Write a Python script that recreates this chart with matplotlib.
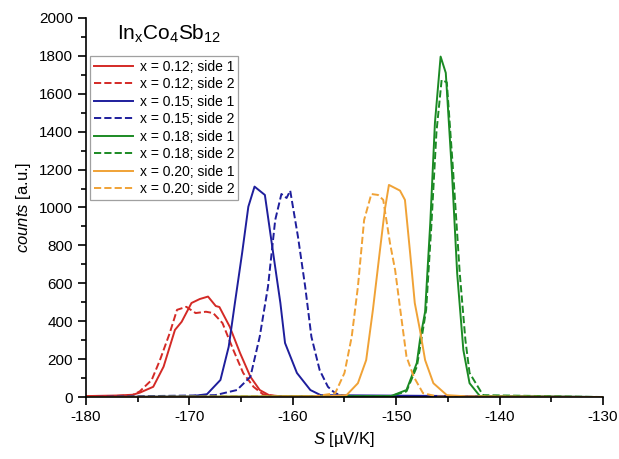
import matplotlib.pyplot as plt

plt.rcParams['font.family'] = ['Liberation Sans', 'DejaVu Sans']
plt.rcParams['mathtext.fontset'] = 'custom'
plt.rcParams['mathtext.rm'] = 'Liberation Sans'
plt.rcParams['mathtext.it'] = 'Liberation Sans:italic'
plt.rcParams['axes.unicode_minus'] = False

# x = 0.12
red1_x = [-180, -177, -175.5, -174.8, -173.5, -172.5, -171.4, -170.75, -169.8, -169.0, -168.2,
          -167.45, -167.1, -166.1, -165.1, -164.1, -163.2, -162.3, -161.0, -130]
red1_y = [5, 8, 12, 23, 54, 160, 354, 397, 496, 517, 530, 480, 475, 371, 232, 107, 37, 10, 3, 0]
red2_x = [-180, -177, -175.5, -174.8, -173.65, -172.85, -171.9, -171.2, -170.3, -169.4, -168.4,
          -167.7, -166.8, -165.75, -164.8, -163.8, -162.9, -161.5, -130]
red2_y = [3, 6, 10, 30, 90, 195, 338, 460, 476, 443, 450, 443, 390, 248, 127, 54, 15, 3, 0]

# x = 0.15
blue1_x = [-180, -170, -168.3, -167.0, -166.2, -165.6, -164.9, -164.3, -163.7, -162.7, -161.9,
           -161.2, -160.75, -159.6, -158.3, -157.3, -130]
blue1_y = [0, 3, 15, 90, 265, 496, 760, 1004, 1110, 1066, 760, 496, 285, 127, 37, 10, 0]
blue2_x = [-180, -167.5, -165.4, -164.1, -163.2, -162.4, -161.7, -161.1, -160.6, -160.25, -159.5,
           -158.8, -158.2, -157.4, -156.6, -155.9, -155.0, -130]
blue2_y = [0, 10, 37, 107, 318, 582, 934, 1071, 1050, 1089, 846, 582, 318, 142, 54, 20, 5, 0]

# x = 0.18
green1_x = [-180, -150.5, -149.0, -148.0, -147.7, -147.2, -146.7, -146.25, -145.7, -145.2, -144.6,
            -144.1, -143.5, -142.9, -141.9, -130]
green1_y = [0, 5, 37, 180, 300, 450, 918, 1446, 1796, 1710, 1182, 654, 248, 73, 5, 0]
green2_x = [-180, -150.5, -149.0, -148.0, -147.6, -147.1, -146.6, -146.1, -145.6, -145.1, -144.5,
            -143.85, -143.3, -142.9, -141.6, -130]
green2_y = [0, 5, 30, 160, 290, 460, 900, 1400, 1673, 1660, 1200, 654, 300, 127, 10, 0]

# x = 0.20
orange1_x = [-180, -157, -154.8, -153.7, -152.9, -152.25, -151.6, -151.1, -150.7, -149.63, -149.15,
             -148.65, -148.2, -147.7, -147.2, -146.4, -145.1, -143, -130]
orange1_y = [0, 3, 10, 73, 195, 460, 760, 987, 1119, 1089, 1040, 760, 496, 354, 195, 73, 10, 3, 0]
orange2_x = [-180, -158, -155.9, -155.0, -154.3, -153.7, -153.1, -152.4, -151.75, -151.25, -150.6,
             -150.1, -149.6, -149.0, -148.3, -147.4, -146, -130]
orange2_y = [0, 3, 20, 127, 318, 582, 934, 1071, 1066, 1040, 813, 670, 460, 213, 107, 20, 3, 0]

red = '#d42a26'
blue = '#1e1e9c'
green = '#1b8a24'
orange = '#f0a236'

fig = plt.figure(figsize=(6.19, 4.59), dpi=100)
ax = fig.add_axes([0.139, 0.135, 0.835, 0.826])

ax.plot(red1_x, red1_y, color=red, lw=1.4, label='x = 0.12; side 1')
ax.plot(red2_x, red2_y, color=red, lw=1.4, ls='--', label='x = 0.12; side 2')
ax.plot(blue1_x, blue1_y, color=blue, lw=1.4, label='x = 0.15; side 1')
ax.plot(blue2_x, blue2_y, color=blue, lw=1.4, ls='--', label='x = 0.15; side 2')
ax.plot(green1_x, green1_y, color=green, lw=1.4, label='x = 0.18; side 1')
ax.plot(green2_x, green2_y, color=green, lw=1.4, ls='--', label='x = 0.18; side 2')
ax.plot(orange1_x, orange1_y, color=orange, lw=1.4, label='x = 0.20; side 1')
ax.plot(orange2_x, orange2_y, color=orange, lw=1.4, ls='--', label='x = 0.20; side 2')

ax.set_xlim(-180, -130)
ax.set_ylim(0, 2000)
ax.set_xticks(range(-180, -129, 10))
ax.set_yticks(range(0, 2001, 200))
ax.set_xticks(range(-175, -130, 10), minor=True)
ax.set_yticks(range(100, 2000, 200), minor=True)
ax.spines['top'].set_visible(False)
ax.spines['right'].set_visible(False)
ax.tick_params(axis='both', which='major', direction='out', length=6, width=1.2, labelsize=11)
ax.tick_params(axis='both', which='minor', direction='out', length=3.5, width=1.2)
for s in ['left', 'bottom']:
    ax.spines[s].set_linewidth(1.2)

ax.set_xlabel(r'$\it{S}$ [µV/K]', fontsize=12)
ax.set_ylabel(r'$\it{counts}$ [a.u.]', fontsize=12)

leg = ax.legend(loc='upper left', bbox_to_anchor=(-0.004, 0.915), fontsize=10,
                fancybox=False, edgecolor='#888888', handlelength=2.8,
                borderpad=0.3, labelspacing=0.25, handletextpad=0.5, borderaxespad=0.4)
leg.get_frame().set_linewidth(0.9)
ax.text(0.16, 0.958, r'In$_\mathregular{x}$Co$_\mathregular{4}$Sb$_\mathregular{12}$',
        transform=ax.transAxes, ha='center', va='center', fontsize=15)

fig.savefig('out.png', dpi=100)
